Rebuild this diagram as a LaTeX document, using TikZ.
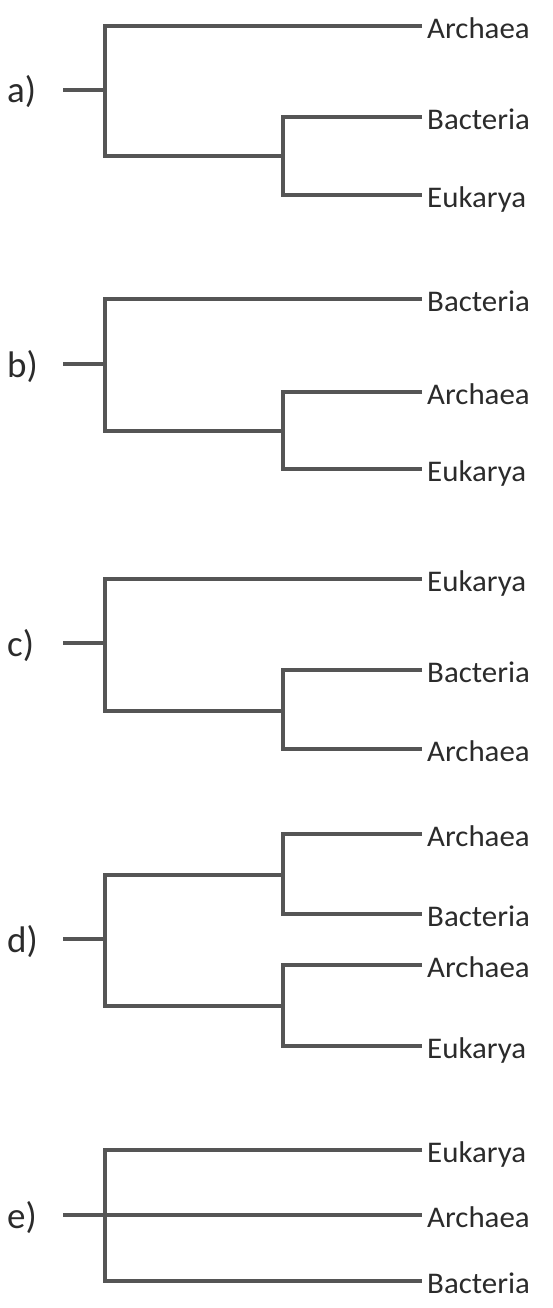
\documentclass[tikz,border=0pt]{standalone}
\usepackage{fontspec}
\setmainfont{Carlito}
\newfontfamily\taxfont{Carlito}[FakeStretch=1.03]
\definecolor{branchgray}{HTML}{555555}
\definecolor{textgray}{HTML}{2b2b2b}
\begin{document}
\begin{tikzpicture}[x=1pt,y=-1pt,
  branch/.style={draw=branchgray,line width=3.6pt,line join=miter},
  taxon/.style={anchor=base west,inner sep=0pt,text=textgray,font=\taxfont\fontsize{30}{32}\selectfont},
  panel/.style={anchor=base west,inner sep=0pt,text=textgray,font=\fontsize{37}{40}\selectfont}]
\useasboundingbox (0,0) rectangle (553,1308);
% ---------- a ----------
\node[panel] (la) at (7,103) {a)};
\coordinate (a0) at (63,90);  \coordinate (a1) at (105,90); \coordinate (a2) at (283,156);
\coordinate (aA) at (422,26); \coordinate (aB) at (422,117); \coordinate (aE) at (422,195);
\node[taxon] (taA) at (427,38.5) {Archaea};
\node[taxon] (taB) at (427,129.5) {Bacteria};
\node[taxon] (taE) at (427,207.5) {Eukarya};
\draw[branch] (a0) -- (a1);
\draw[branch] (aA) -| (a1) |- (a2);
\draw[branch] (aB) -| (a2) |- (aE);
% ---------- b ----------
\node[panel] (lb) at (7,377) {b)};
\coordinate (b0) at (63,364); \coordinate (b1) at (105,364); \coordinate (b2) at (283,431);
\coordinate (bB) at (422,299); \coordinate (bA) at (422,392); \coordinate (bE) at (422,469);
\node[taxon] (tbB) at (427,311.5) {Bacteria};
\node[taxon] (tbA) at (427,404.5) {Archaea};
\node[taxon] (tbE) at (427,481.5) {Eukarya};
\draw[branch] (b0) -- (b1);
\draw[branch] (bB) -| (b1) |- (b2);
\draw[branch] (bA) -| (b2) |- (bE);
% ---------- c ----------
\node[panel] (lc) at (7,656) {c)};
\coordinate (c0) at (63,643); \coordinate (c1) at (105,643); \coordinate (c2) at (283,711);
\coordinate (cE) at (422,579); \coordinate (cB) at (422,670); \coordinate (cA) at (422,749);
\node[taxon] (tcE) at (427,591.5) {Eukarya};
\node[taxon] (tcB) at (427,682.5) {Bacteria};
\node[taxon] (tcA) at (427,761.5) {Archaea};
\draw[branch] (c0) -- (c1);
\draw[branch] (cE) -| (c1) |- (c2);
\draw[branch] (cB) -| (c2) |- (cA);
% ---------- d ----------
\node[panel] (ld) at (7,952) {d)};
\coordinate (d0) at (63,939); \coordinate (d1) at (105,939);
\coordinate (d2) at (283,875); \coordinate (d3) at (283,1006);
\coordinate (dA1) at (422,834); \coordinate (dB) at (422,914);
\coordinate (dA2) at (422,965); \coordinate (dE) at (422,1046);
\node[taxon] (tdA1) at (427,846.5) {Archaea};
\node[taxon] (tdB) at (427,926.5) {Bacteria};
\node[taxon] (tdA2) at (427,977.5) {Archaea};
\node[taxon] (tdE) at (427,1058.5) {Eukarya};
\draw[branch] (d0) -- (d1);
\draw[branch] (d2) -| (d1) |- (d3);
\draw[branch] (dA1) -| (d2) |- (dB);
\draw[branch] (dA2) -| (d3) |- (dE);
% ---------- e ----------
\node[panel] (le) at (7,1228) {e)};
\coordinate (e0) at (63,1215); \coordinate (e1) at (105,1215);
\coordinate (eE) at (422,1150); \coordinate (eA) at (422,1215); \coordinate (eB) at (422,1281);
\node[taxon] (teE) at (427,1162.5) {Eukarya};
\node[taxon] (teA) at (427,1227.5) {Archaea};
\node[taxon] (teB) at (427,1293.5) {Bacteria};
\draw[branch] (e0) -- (eA);
\draw[branch] (eE) -| (e1) |- (eB);
\end{tikzpicture}
\end{document}
